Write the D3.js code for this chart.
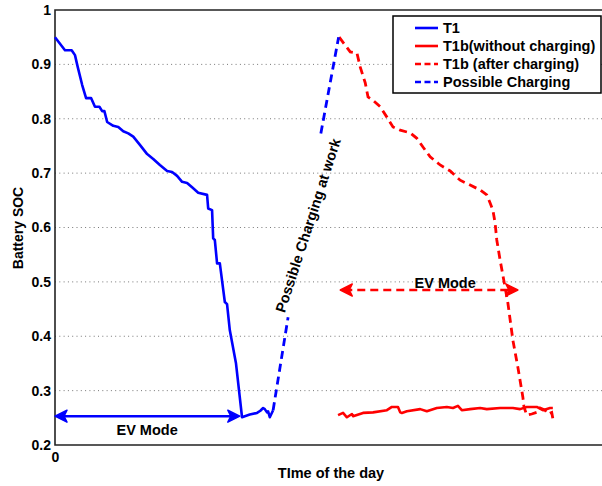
<!DOCTYPE html>
<html>
<head>
<meta charset="utf-8">
<script src="https://cdn.jsdelivr.net/npm/d3@7"></script>
<style>
  body { margin: 0; background: #fff; }
  text { font-family: "Liberation Sans", Arial, Helvetica, sans-serif; }
</style>
</head>
<body>
<script>
const width = 602, height = 486;

// time axis in arbitrary units (0..100 across the whole axes box)
const t1Time = [0, 1.8, 3.0, 3.6, 4.1, 4.9, 5.6, 6.5, 7.2, 8.0, 8.5, 8.9, 9.4, 10.5, 11.4, 12.3, 13.2, 14.1, 15.3, 16.6, 17.7, 18.9, 20.2, 21.1, 22.0, 22.9, 23.8, 24.7, 25.8, 27.4, 27.6, 28.3, 28.5, 28.8, 29.2, 29.7, 30.6, 31.0, 31.5, 32.6, 33.7, 34.2, 35.1, 36.4, 37.0, 37.5, 37.8, 38.2, 38.4, 38.7, 39.3];
const t1Soc  = [0.950, 0.926, 0.926, 0.917, 0.895, 0.862, 0.838, 0.838, 0.822, 0.822, 0.814, 0.814, 0.794, 0.787, 0.785, 0.777, 0.773, 0.767, 0.752, 0.735, 0.726, 0.715, 0.704, 0.702, 0.695, 0.684, 0.682, 0.674, 0.664, 0.660, 0.635, 0.632, 0.580, 0.577, 0.534, 0.534, 0.463, 0.459, 0.411, 0.351, 0.251, 0.253, 0.256, 0.259, 0.263, 0.268, 0.266, 0.260, 0.262, 0.251, 0.264];

const chargeTime = [39.3, 42.0, null, 47.9, 51.1];
const chargeSoc  = [0.264, 0.435, null, 0.773, 0.950];

const t1bAfterTime = [51.2, 53.2, 54.4, 55.0, 55.9, 56.4, 57.3, 58.6, 59.8, 60.9, 62.2, 64.0, 65.2, 66.3, 67.6, 69.4, 71.2, 73.0, 74.8, 76.6, 77.8, 78.4, 78.9, 79.3, 79.6, 80.2, 81.1, 81.6, 82.5, 83.4, 84.3, 84.5, 85.0, 85.9, 86.8, 87.4, 88.3, 88.8, 89.5, 89.7];
const t1bAfterSoc  = [0.950, 0.923, 0.921, 0.895, 0.866, 0.840, 0.834, 0.822, 0.803, 0.785, 0.779, 0.774, 0.764, 0.748, 0.730, 0.715, 0.704, 0.687, 0.678, 0.669, 0.660, 0.645, 0.632, 0.608, 0.577, 0.540, 0.490, 0.461, 0.393, 0.343, 0.288, 0.270, 0.255, 0.257, 0.260, 0.268, 0.264, 0.257, 0.260, 0.249];

const t1bNoChargeTime = [51.0, 51.9, 52.6, 53.5, 53.7, 55.5, 57.3, 59.8, 60.7, 61.8, 62.2, 62.5, 63.4, 65.8, 67.0, 68.8, 70.6, 71.7, 72.6, 73.3, 74.8, 76.6, 77.8, 80.2, 82.5, 83.8, 85.0, 86.8, 87.9, 89.2, 89.7];
const t1bNoChargeSoc  = [0.255, 0.259, 0.251, 0.257, 0.253, 0.259, 0.260, 0.264, 0.270, 0.270, 0.260, 0.259, 0.262, 0.266, 0.262, 0.268, 0.270, 0.268, 0.272, 0.264, 0.266, 0.268, 0.266, 0.268, 0.268, 0.266, 0.270, 0.270, 0.264, 0.268, 0.268];

const yTicks = [0.2, 0.3, 0.4, 0.5, 0.6, 0.7, 0.8, 0.9, 1];
const xTicks = [0];

const legendNames = ["T1", "T1b(without charging)", "T1b (after charging)", "Possible Charging"];

// EV mode spans: [start, end, soc]
const evBlue = [0, 33.3, 0.253];
const evRed = [51.4, 83.4, 0.485];

const svg = d3.select("body").append("svg")
  .attr("width", width)
  .attr("height", height);

const x = d3.scaleLinear().domain([0, 100]).range([55, 610]);
const y = d3.scaleLinear().domain([0.2, 1]).range([445, 10]);

// grid
svg.append("g").selectAll("line")
  .data(yTicks.filter(d => d > 0.2 && d < 1))
  .enter().append("line")
    .attr("x1", x(0)).attr("x2", x(100))
    .attr("y1", d => y(d)).attr("y2", d => y(d))
    .attr("stroke", "#777")
    .attr("stroke-width", 1)
    .attr("stroke-dasharray", "1,3.3");

// axes
const yAxis = svg.append("g")
  .attr("transform", "translate(" + x(0) + ",0)")
  .call(d3.axisLeft(y).tickValues(yTicks).tickSize(0).tickPadding(4)
    .tickFormat(d => d === 1 ? "1" : d.toFixed(1)));
yAxis.select(".domain").remove();
yAxis.selectAll("text").attr("font-size", 14).attr("font-weight", "bold").attr("fill", "#000")
  .attr("font-family", "Liberation Sans, Arial, sans-serif");

const xAxis = svg.append("g")
  .attr("transform", "translate(0," + y(0.2) + ")")
  .call(d3.axisBottom(x).tickValues(xTicks).tickSize(0).tickPadding(7).tickFormat(d3.format("d")));
xAxis.select(".domain").remove();
xAxis.selectAll("text").attr("font-size", 14).attr("font-weight", "bold").attr("fill", "#000")
  .attr("font-family", "Liberation Sans, Arial, sans-serif");

// box
svg.append("path")
  .attr("d", "M" + x(100) + "," + y(1) + "H" + x(0) + "V" + y(0.2) + "H" + x(100))
  .attr("fill", "none")
  .attr("stroke", "#222")
  .attr("stroke-width", 1.6);

// lines
const line = d3.line()
  .defined(d => d[0] !== null)
  .x(d => x(d[0]))
  .y(d => y(d[1]));

const zip = (a, b) => a.map((v, i) => [v, b[i]]);

const plot = svg.append("g");

plot.append("path")
  .datum(zip(t1bNoChargeTime, t1bNoChargeSoc))
  .attr("d", line)
  .attr("fill", "none").attr("stroke", "#ff0000").attr("stroke-width", 2.6)
  .attr("stroke-linejoin", "round");

plot.append("path")
  .datum(zip(t1bAfterTime, t1bAfterSoc))
  .attr("d", line)
  .attr("fill", "none").attr("stroke", "#ff0000").attr("stroke-width", 2.8)
  .attr("stroke-dasharray", "8,5");

plot.append("path")
  .datum(zip(chargeTime, chargeSoc))
  .attr("d", line)
  .attr("fill", "none").attr("stroke", "#0000ff").attr("stroke-width", 2.8)
  .attr("stroke-dasharray", "8,5");

plot.append("path")
  .datum(zip(t1Time, t1Soc))
  .attr("d", line)
  .attr("fill", "none").attr("stroke", "#0000ff").attr("stroke-width", 2.6)
  .attr("stroke-linejoin", "round");

// arrows
function arrowHead(g, px, py, dir, color) {
  // dir = 1 points right, -1 points left
  g.append("path")
    .attr("d", "M0,0 L" + (-12 * dir) + ",-6 L" + (-9 * dir) + ",0 L" + (-12 * dir) + ",6 Z")
    .attr("transform", "translate(" + px + "," + py + ")")
    .attr("fill", color)
    .attr("stroke", color)
    .attr("stroke-width", 1.5)
    .attr("stroke-linejoin", "round");
}

const arrows = svg.append("g");
arrows.append("line")
  .attr("x1", x(evBlue[0]) + 4).attr("x2", x(evBlue[1]) - 4)
  .attr("y1", y(evBlue[2])).attr("y2", y(evBlue[2]))
  .attr("stroke", "#0000ff").attr("stroke-width", 2.6);
arrowHead(arrows, x(evBlue[0]), y(evBlue[2]), -1, "#0000ff");
arrowHead(arrows, x(evBlue[1]), y(evBlue[2]), 1, "#0000ff");

arrows.append("line")
  .attr("x1", x(evRed[0]) + 4).attr("x2", x(evRed[1]) - 4)
  .attr("y1", y(evRed[2])).attr("y2", y(evRed[2]))
  .attr("stroke", "#ff0000").attr("stroke-width", 2.6)
  .attr("stroke-dasharray", "8,5");
arrowHead(arrows, x(evRed[0]), y(evRed[2]), -1, "#ff0000");
arrowHead(arrows, x(evRed[1]), y(evRed[2]), 1, "#ff0000");

// annotations
svg.append("text")
  .attr("x", x(16.6)).attr("y", y(0.218))
  .attr("text-anchor", "middle")
  .attr("font-size", 14.5).attr("font-weight", "bold")
  .text("EV Mode");

svg.append("text")
  .attr("x", x(70.3)).attr("y", y(0.489))
  .attr("text-anchor", "middle")
  .attr("font-size", 14.5).attr("font-weight", "bold")
  .text("EV Mode");

svg.append("text")
  .attr("transform", "translate(" + x(45.6) + "," + y(0.604) + ") rotate(-72)")
  .attr("text-anchor", "middle")
  .attr("dy", "0.35em")
  .attr("font-size", 14.5).attr("font-weight", "bold")
  .text("Possible Charging at work");

// axis labels
svg.append("text")
  .attr("x", 331).attr("y", 478)
  .attr("text-anchor", "middle")
  .attr("font-size", 14.5).attr("font-weight", "bold")
  .text("TIme of the day");

svg.append("text")
  .attr("transform", "translate(23,228) rotate(-90)")
  .attr("text-anchor", "middle")
  .attr("font-size", 14).attr("font-weight", "bold")
  .text("Battery SOC");

// legend
const legend = svg.append("g").attr("transform", "translate(393,16)");
legend.append("rect")
  .attr("width", 208).attr("height", 77)
  .attr("fill", "#fff").attr("stroke", "#000").attr("stroke-width", 1.5);

const legendColors = ["#0000ff", "#ff0000", "#ff0000", "#0000ff"];
const legendDash = [null, null, "6,3.5", "6,3.5"];

const rows = legend.selectAll("g.row")
  .data(legendNames)
  .enter().append("g")
    .attr("class", "row")
    .attr("transform", (d, i) => "translate(0," + (12 + i * 18) + ")");

rows.append("line")
  .attr("x1", 22).attr("x2", 45)
  .attr("stroke", (d, i) => legendColors[i])
  .attr("stroke-width", 2.6)
  .attr("stroke-dasharray", (d, i) => legendDash[i]);

rows.append("text")
  .attr("x", 50).attr("dy", "0.36em")
  .attr("font-size", 14.5).attr("font-weight", "bold")
  .text(d => d);
</script>
</body>
</html>
